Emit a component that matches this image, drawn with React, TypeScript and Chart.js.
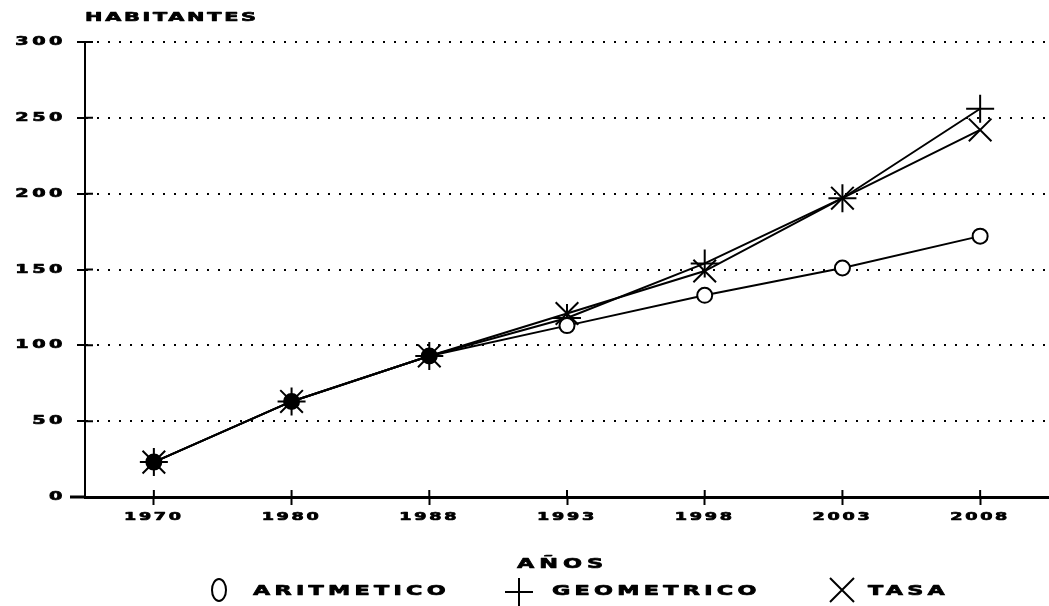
import React, { useEffect, useRef } from 'react';
import { Chart, registerables } from 'chart.js';

Chart.register(...registerables);

const years = ['1970', '1980', '1988', '1993', '1998', '2003', '2008'];
const aritmetico = [23, 63, 93, 113, 133, 151, 172];
const geometrico = [23, 63, 93, 118, 154, 197, 256];
const tasa = [23, 63, 93, 121, 149, 197, 242];
const seriesLabels = ['ARITMETICO', 'GEOMETRICO', 'TASA'];
const yTickValues = [0, 50, 100, 150, 200, 250, 300];
const yTitle = 'HABITANTES';
const xTitle = 'AÑOS';

const FONT = '"DejaVu Sans", "Liberation Sans", sans-serif';

function withStretch(ctx: any, sx: number, ls: number, draw: () => void) {
  const orig = CanvasRenderingContext2D.prototype.fillText;
  const origStroke = CanvasRenderingContext2D.prototype.strokeText;
  ctx.save();
  ctx.letterSpacing = `${ls}px`;
  ctx.fillText = function (text: string, x: number, y: number) {
    this.save();
    this.translate(x, y);
    this.scale(sx, 1);
    orig.call(this, text, 0, 0);
    this.lineWidth = 0.7;
    this.lineJoin = 'round';
    this.strokeStyle = this.fillStyle;
    this.setLineDash([]);
    origStroke.call(this, text, 0, 0);
    this.restore();
  };
  try {
    draw();
  } finally {
    delete ctx.fillText;
    ctx.restore();
  }
}

const stretchPlugin = {
  id: 'stretchTicks',
  afterUpdate(chart: any) {
    const cfg: Record<string, [number, number]> = { x: [1.6, 1.7], y: [1.6, 2.2] };
    for (const id of Object.keys(cfg)) {
      const s = chart.scales[id];
      if (!s || s.__stretched) continue;
      const orig = s.drawLabels.bind(s);
      s.drawLabels = (area: any) => withStretch(chart.ctx, cfg[id][0], cfg[id][1], () => orig(area));
      s.__stretched = true;
    }
  },
};

const decorPlugin = {
  id: 'decor',
  afterDraw(chart: any) {
    const { ctx, chartArea } = chart;
    const xs = chart.scales.x;
    const ys = chart.scales.y;
    ctx.save();
    ctx.strokeStyle = '#000';
    ctx.fillStyle = '#000';
    // x axis line extends a bit left of the y axis
    ctx.lineWidth = 3;
    ctx.beginPath();
    ctx.moveTo(70, chartArea.bottom);
    ctx.lineTo(chartArea.left, chartArea.bottom);
    ctx.stroke();
    // inward halves of tick marks
    ctx.lineWidth = 2;
    ctx.beginPath();
    for (const v of yTickValues) {
      const py = ys.getPixelForValue(v);
      ctx.moveTo(chartArea.left, py);
      ctx.lineTo(chartArea.left + 8, py);
    }
    for (let i = 0; i < years.length; i++) {
      const px = xs.getPixelForValue(i);
      ctx.moveTo(px, chartArea.bottom);
      ctx.lineTo(px, chartArea.bottom - 7);
    }
    ctx.stroke();

    ctx.textAlign = 'left';
    ctx.textBaseline = 'alphabetic';
    withStretch(ctx, 1.6, 1.7, () => {
      ctx.font = `bold 13px ${FONT}`;
      ctx.fillText(yTitle, chartArea.left, 21);
    });
    withStretch(ctx, 1.6, 3.1, () => {
      ctx.font = `bold 14px ${FONT}`;
      ctx.fillText(xTitle, 517, 568);
    });

    // legend
    const markerX = [219, 519, 842];
    const textX = [253, 552, 868];
    ctx.lineWidth = 2;
    ctx.beginPath();
    ctx.ellipse(markerX[0], 590, 7, 11, 0, 0, Math.PI * 2);
    ctx.stroke();
    ctx.beginPath();
    ctx.moveTo(markerX[1] - 14, 592);
    ctx.lineTo(markerX[1] + 14, 592);
    ctx.moveTo(markerX[1], 578);
    ctx.lineTo(markerX[1], 606);
    ctx.stroke();
    ctx.beginPath();
    ctx.moveTo(markerX[2] - 12, 578);
    ctx.lineTo(markerX[2] + 12, 602);
    ctx.moveTo(markerX[2] + 12, 578);
    ctx.lineTo(markerX[2] - 12, 602);
    ctx.stroke();
    withStretch(ctx, 1.65, 2.6, () => {
      ctx.font = `bold 13.5px ${FONT}`;
      seriesLabels.forEach((t, i) => ctx.fillText(t, textX[i], 595));
    });
    ctx.restore();
  },
};

export default function App() {
  const ref = useRef<HTMLCanvasElement>(null);
  useEffect(() => {
    if (!ref.current) return;
    const chart = new Chart(ref.current, {
      type: 'line',
      data: {
        labels: years,
        datasets: [
          {
            label: seriesLabels[0],
            data: aritmetico,
            borderColor: '#000',
            borderWidth: 2,
            pointStyle: 'circle',
            pointRadius: 7.5,
            pointBorderWidth: 2,
            pointBorderColor: '#000',
            pointBackgroundColor: ['#000', '#000', '#000', '#fff', '#fff', '#fff', '#fff'],
            tension: 0,
          },
          {
            label: seriesLabels[1],
            data: geometrico,
            borderColor: '#000',
            borderWidth: 2,
            pointStyle: 'cross',
            pointRadius: 14,
            pointBorderWidth: 2,
            pointBorderColor: '#000',
            tension: 0,
          },
          {
            label: seriesLabels[2],
            data: tasa,
            borderColor: '#000',
            borderWidth: 2,
            pointStyle: 'crossRot',
            pointRadius: 16,
            pointBorderWidth: 2,
            pointBorderColor: '#000',
            tension: 0,
          },
        ],
      },
      options: {
        animation: false,
        responsive: false,
        layout: { autoPadding: false, padding: { top: 42, right: 0, left: 0, bottom: 0 } },
        plugins: { legend: { display: false }, tooltip: { enabled: false } },
        scales: {
          x: {
            type: 'category',
            offset: true,
            afterFit: (s: any) => {
              s.height = 109;
              s.paddingLeft = 0;
              s.paddingRight = 0;
            },
            grid: {
              drawOnChartArea: false,
              drawTicks: true,
              tickLength: 8,
              tickColor: '#000',
              tickWidth: 2,
            },
            border: { color: '#000', width: 3 },
            ticks: {
              color: '#000',
              font: { family: FONT, size: 11, weight: 'bold' },
              padding: 6,
              autoSkip: false,
              maxRotation: 0,
            },
          },
          y: {
            min: 0,
            max: 300,
            afterFit: (s: any) => {
              s.width = 85;
              s.paddingTop = 0;
              s.paddingBottom = 0;
            },
            afterBuildTicks: (s: any) => {
              s.ticks = yTickValues.map((v) => ({ value: v }));
            },
            grid: {
              color: '#000',
              lineWidth: 2,
              tickLength: 8,
              tickColor: '#000',
              tickWidth: 2,
              tickBorderDash: [],
            },
            border: { color: '#000', width: 2, dash: [2, 9] },
            ticks: {
              color: '#000',
              font: { family: FONT, size: 12, weight: 'bold' },
              padding: 11,
            },
          },
        },
      },
      plugins: [stretchPlugin, decorPlugin],
    } as any);
    return () => chart.destroy();
  }, []);
  return (
    <div style={{ position: 'absolute', left: 0, top: 0, width: 1049, height: 606, background: '#fff' }}>
      <canvas ref={ref} width={1049} height={606} />
    </div>
  );
}
